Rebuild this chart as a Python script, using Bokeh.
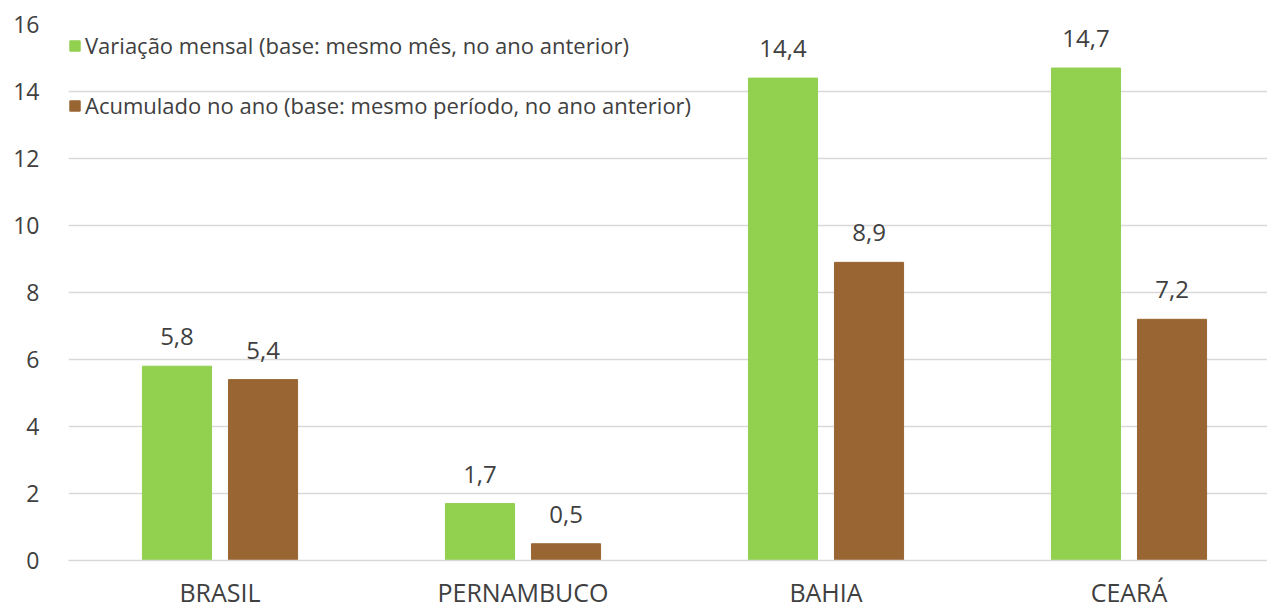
from bokeh.plotting import figure
from bokeh.models import ColumnDataSource, Range1d, FixedTicker, Legend, LegendItem
from bokeh.transform import dodge
from bokeh.core.properties import value
from bokeh.embed import file_html
from bokeh.resources import INLINE

categories = ["BRASIL", "PERNAMBUCO", "BAHIA", "CEARÁ"]
mensal = [5.8, 1.7, 14.4, 14.7]
acumulado = [5.4, 0.5, 8.9, 7.2]
series_names = ["Variação mensal (base: mesmo mês, no ano anterior)",
                "Acumulado no ano (base: mesmo período, no ano anterior)"]
y_ticks = [0, 2, 4, 6, 8, 10, 12, 14, 16]

GREEN = "#92d050"
BROWN = "#996633"
FONT = "Open Sans"
TXT = "#404040"

def fmt(v):
    return f"{v:.1f}".replace(".", ",")

x = [i + 0.5 for i in range(len(categories))]
src = ColumnDataSource(dict(
    x=x, mensal=mensal, acumulado=acumulado,
    lm=[fmt(v) for v in mensal], la=[fmt(v) for v in acumulado],
))

W, H = 1267, 611
left, top, bottom = 68, 24, 51
frame_w = W - left
p = figure(width=W, height=H, output_backend="svg", toolbar_location=None,
           x_range=Range1d(0, frame_w / 303.0), y_range=Range1d(0, 16),
           min_border_left=left, min_border_right=0, min_border_top=top,
           min_border_bottom=bottom, outline_line_color=None)
p.background_fill_color = "white"
p.border_fill_color = "white"

off, bw = 0.142, 0.228
r1 = p.vbar(x=dodge("x", -off), top="mensal", width=bw, source=src,
            fill_color=GREEN, line_color=GREEN)
r2 = p.vbar(x=dodge("x", off), top="acumulado", width=bw, source=src,
            fill_color=BROWN, line_color=BROWN)

p.text(x=dodge("x", -off), y="mensal", text="lm", source=src,
       text_align="center", text_baseline="bottom", y_offset=-21,
       text_font=value(FONT), text_font_size="24px", text_color=TXT)
p.text(x=dodge("x", off), y="acumulado", text="la", source=src,
       text_align="center", text_baseline="bottom", y_offset=-21,
       text_font=value(FONT), text_font_size="24px", text_color=TXT)

p.xgrid.grid_line_color = None
p.ygrid.grid_line_color = "#d9d9d9"
p.ygrid.grid_line_width = 1.5
p.yaxis.ticker = FixedTicker(ticks=y_ticks)
p.ygrid.ticker = FixedTicker(ticks=y_ticks)
p.yaxis.axis_line_color = None
p.yaxis.major_tick_line_color = None
p.yaxis.minor_tick_line_color = None
p.yaxis.major_label_standoff = 23
p.yaxis.major_label_text_font = FONT
p.yaxis.major_label_text_font_size = "23px"
p.yaxis.major_label_text_color = TXT

p.xaxis.ticker = FixedTicker(ticks=x)
p.xaxis.major_label_overrides = {v: c for v, c in zip(x, categories)}
p.xaxis.axis_line_color = "#d9d9d9"
p.xaxis.axis_line_width = 1.5
p.xaxis.major_tick_line_color = None
p.xaxis.minor_tick_line_color = None
p.xaxis.major_label_standoff = 8
p.xaxis.major_label_text_font = FONT
p.xaxis.major_label_text_font_size = "25px"
p.xaxis.major_label_text_color = TXT

legend = Legend(items=[LegendItem(label=series_names[0], renderers=[r1]),
                       LegendItem(label=series_names[1], renderers=[r2])],
                location=(0, 440), orientation="vertical",
                border_line_color=None, background_fill_alpha=0,
                padding=0, margin=0, spacing=30,
                glyph_width=13, glyph_height=13, label_height=30,
                label_standoff=4, label_text_font=FONT,
                label_text_font_size="22px", label_text_color=TXT)
p.add_layout(legend)

open("out.html", "w").write(file_html(p, INLINE))
